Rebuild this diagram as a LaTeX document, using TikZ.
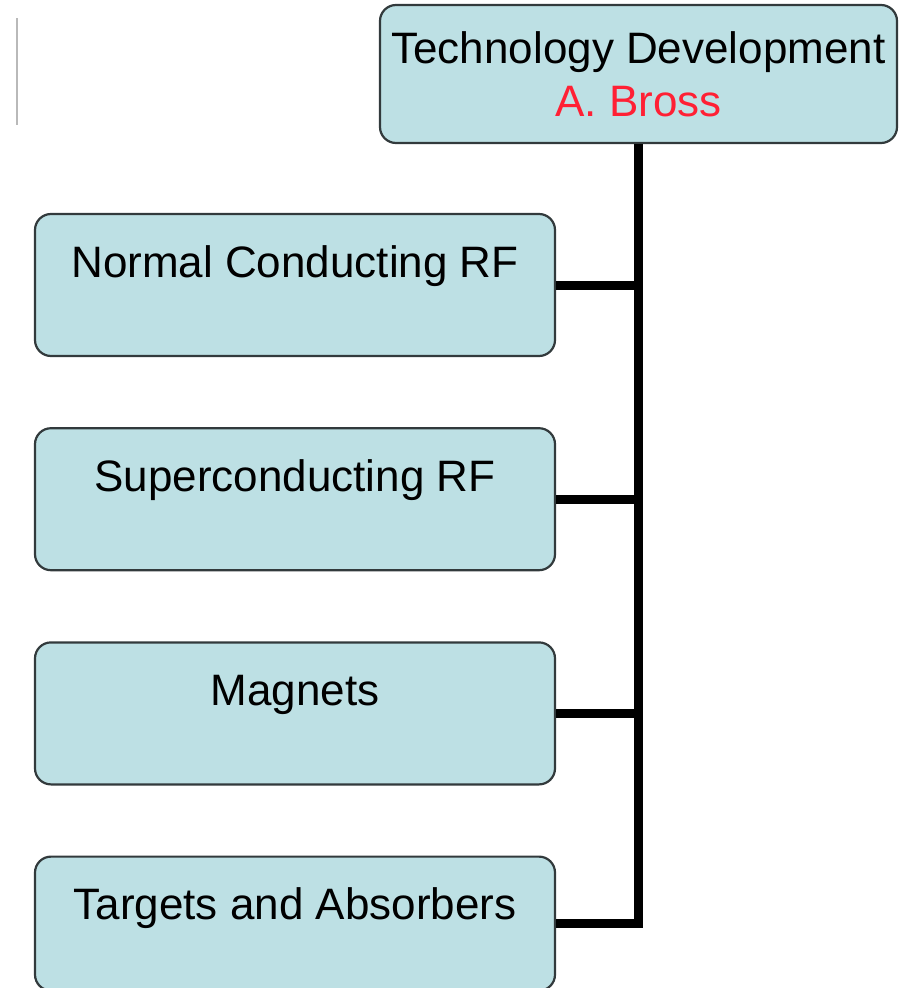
\documentclass[tikz,border=0pt]{standalone}
\usepackage{fontspec}
\setmainfont{Liberation Sans}
\usetikzlibrary{positioning}
\definecolor{boxfill}{RGB}{189,224,228}
\definecolor{boxline}{RGB}{50,58,60}
\definecolor{namered}{RGB}{255,32,52}
\begin{document}
\begin{tikzpicture}[
        x=1pt, y=1pt,
        node distance=70pt,
        font=\fontsize{44}{53}\selectfont,
        base/.style={rectangle, rounded corners=16pt, draw=boxline, line width=2.2pt, fill=boxfill, inner sep=0pt},
        head/.style={base, align=center, minimum width=517pt, minimum height=138pt},
        proc/.style={base, minimum width=520pt, minimum height=142pt, text height=40pt, text depth=56pt},
        connector/.style={line width=9pt, line join=miter, black}
    ]
        \useasboundingbox (0,0) rectangle (898,-988);
        \draw [gray!55, line width=2pt] (17,-18) -- (17,-125);

        \node (tech) [head] at (638.5,-74) {Technology Development\\{\color{namered}A. Bross}};
        \node (ncrf) [proc] at (295,-285) {Normal Conducting RF};
        \node (scrf) [proc, below=of ncrf] {Superconducting RF};
        \node (magnets) [proc, below=of scrf] {Magnets};
        \node (targets) [proc, below=of magnets, minimum height=134pt, text depth=48pt] {Targets and Absorbers};

        \draw [connector] (tech.south) |- (targets.east);
        \draw [connector] (ncrf.east) -- (ncrf.east -| tech.south);
        \draw [connector] (scrf.east) -- (scrf.east -| tech.south);
        \draw [connector] (magnets.east) -- (magnets.east -| tech.south);
\end{tikzpicture}
\end{document}
